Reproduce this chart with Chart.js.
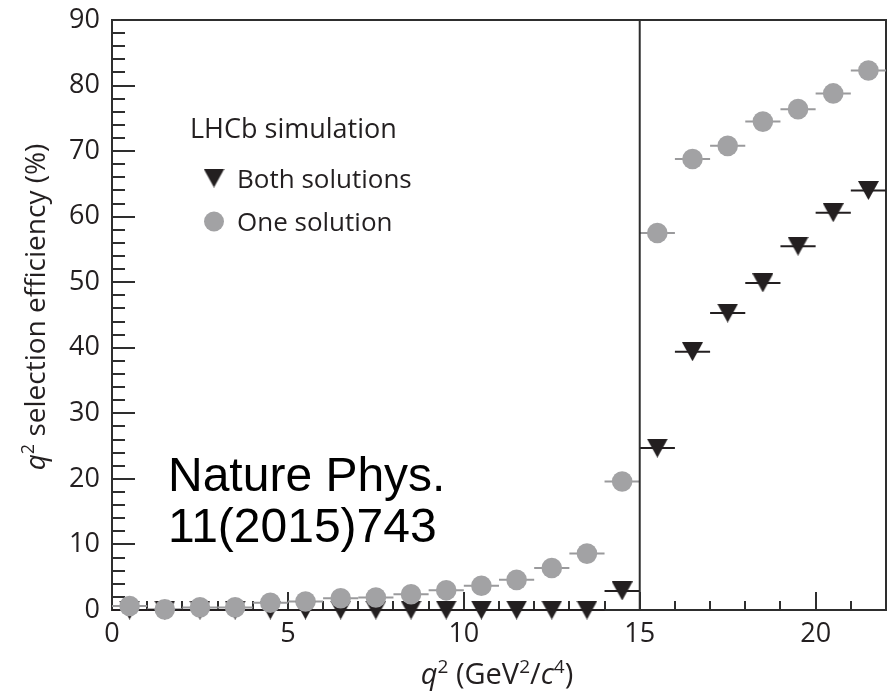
<!DOCTYPE html>
<html><head><meta charset="utf-8">
<script src="https://cdn.jsdelivr.net/npm/chart.js@4.4.1/dist/chart.umd.min.js"></script>
<style>html,body{margin:0;padding:0;background:#fff;}canvas{display:block;}</style>
</head><body>
<canvas id="c" width="893" height="691"></canvas>
<script>
// ---- data ----
const q2BinLow  = [0,1,2,3,4,5,6,7,8,9,10,11,12,13,14,15,16,17,18,19,20,21];
const q2BinHigh = [1,2,3,4,5,6,7,8,9,10,11,12,13,14,15,16,17,18,19,20,21,22];
const oneSolution   = [0.6,0.1,0.4,0.4,1.1,1.3,1.8,1.9,2.4,3.0,3.7,4.6,6.4,8.6,19.6,57.5,68.8,70.8,74.5,76.4,78.8,82.3];
const bothSolutions = [0,0,0,0,0,0,0,0,0,0,0,0,0,0,2.9,24.7,39.4,45.3,49.9,55.5,60.6,64.0];
const boundaryQ2  = [15,15];
const boundaryEff = [0,90];
const xTickValues = [0,5,10,15,20];
const yTickValues = [0,10,20,30,40,50,60,70,80,90];
const xMinorStep = 1, yMinorStep = 2;
const xRange = [0,22], yRange = [0,90];

const q2Centers = q2BinLow.map((l,i)=>(l+q2BinHigh[i])/2);

// down-pointing triangle marker
const tri = document.createElement('canvas');
tri.width = 21; tri.height = 19;
(function(){const t=tri.getContext('2d');t.fillStyle='#231f20';t.beginPath();t.moveTo(0,0);t.lineTo(21,0);t.lineTo(10.5,19);t.closePath();t.fill();})();

const INK = '#231f20', GREY = '#a2a2a4';
const FONT = '"Open Sans", "DejaVu Sans", sans-serif';

function richText(ctx, parts, x, y, align){
  let total = 0;
  parts.forEach(p=>{ctx.font=p.f; p.w=ctx.measureText(p.t).width; total+=p.w;});
  let cx = align==='center' ? x-total/2 : x;
  parts.forEach(p=>{ctx.font=p.f; ctx.fillText(p.t, cx, y+(p.dy||0)); cx+=p.w;});
}

const decor = {
  id:'decor',
  beforeDatasetsDraw(chart){
    const {ctx, chartArea:a, scales:{x,y}} = chart;
    ctx.save();
    // frame
    ctx.strokeStyle = '#2e2e2e'; ctx.lineWidth = 2;
    ctx.strokeRect(a.left, a.top, a.right-a.left, a.bottom-a.top);
    // inward ticks
    for (let v = xRange[0]; v <= xRange[1]; v += xMinorStep){
      const px = Math.round(x.getPixelForValue(v));
      const len = xTickValues.includes(v) ? 18 : 9;
      ctx.beginPath(); ctx.moveTo(px, a.bottom); ctx.lineTo(px, a.bottom-len); ctx.stroke();
    }
    for (let v = yRange[0]; v <= yRange[1]; v += yMinorStep){
      const py = Math.round(y.getPixelForValue(v));
      const len = yTickValues.includes(v) ? 23 : 13;
      ctx.beginPath(); ctx.moveTo(a.left, py); ctx.lineTo(a.left+len, py); ctx.stroke();
    }
    // horizontal error bars (bin widths)
    function bars(vals, color){
      ctx.strokeStyle = color; ctx.lineWidth = 2;
      vals.forEach((v,i)=>{
        const py = y.getPixelForValue(v);
        ctx.beginPath();
        ctx.moveTo(x.getPixelForValue(q2BinLow[i]), py);
        ctx.lineTo(x.getPixelForValue(q2BinHigh[i]), py);
        ctx.stroke();
      });
    }
    bars(oneSolution, '#9a9a9c');
    bars(bothSolutions, INK);
    ctx.restore();
  },
  afterDraw(chart){
    const {ctx} = chart;
    ctx.save();
    ctx.fillStyle = INK; ctx.textBaseline = 'alphabetic'; ctx.textAlign = 'left';
    // legend
    ctx.font = '27px ' + FONT;
    ctx.fillText('LHCb simulation', 190, 138);
    ctx.font = '26px ' + FONT;
    ctx.drawImage(tri, 214-10.5, 178-9.5);
    ctx.fillText('Both solutions', 237, 188);
    ctx.fillStyle = GREY; ctx.beginPath(); ctx.arc(214, 221.5, 10, 0, Math.PI*2); ctx.fill();
    ctx.fillStyle = INK;
    ctx.fillText('One solution', 237, 231);
    // annotation
    ctx.fillStyle = '#000';
    ctx.font = '48px "Liberation Sans", Arial, sans-serif';
    ctx.fillText('Nature Phys.', 168, 491);
    ctx.fillText('11(2015)743', 168, 542);
    // axis titles
    ctx.fillStyle = INK;
    const f = '29px ' + FONT, fi = 'italic 29px ' + FONT, fs = '19px ' + FONT;
    richText(ctx, [{t:'q',f:fi},{t:'2',f:fs,dy:-11},{t:' (GeV',f:f},{t:'2',f:fs,dy:-11},{t:'/',f:f},{t:'c',f:fi},{t:'4',f:fs,dy:-11},{t:')',f:f}], 497, 684, 'center');
    const g = '28px ' + FONT, gi = 'italic 28px ' + FONT, gs = '18px ' + FONT;
    ctx.translate(45, 307); ctx.rotate(-Math.PI/2);
    richText(ctx, [{t:'q',f:gi},{t:'2',f:gs,dy:-11},{t:' selection efficiency (%)',f:g}], 0, 0, 'center');
    ctx.restore();
  }
};

new Chart(document.getElementById('c'), {
  type: 'scatter',
  data: {
    datasets: [
      { label:'One solution', data: q2Centers.map((q,i)=>({x:q, y:oneSolution[i]})),
        pointStyle:'circle', pointRadius:10.3, pointBackgroundColor:GREY, pointBorderWidth:0,
        showLine:false, order:1, clip:false },
      { label:'Both solutions', data: q2Centers.map((q,i)=>({x:q, y:bothSolutions[i]})),
        pointStyle:tri, pointRadius:11, pointBorderWidth:0, showLine:false, order:2, clip:false },
      { label:'boundary', type:'line', data: boundaryQ2.map((q,i)=>({x:q, y:boundaryEff[i]})),
        borderColor:'#2e2e2e', borderWidth:2, pointRadius:0, order:3 }
    ]
  },
  options: {
    responsive:false, animation:false, devicePixelRatio:1,
    layout:{ autoPadding:false, padding:{ top:20, right:7, left:0, bottom:0 } },
    plugins:{ legend:{display:false}, tooltip:{enabled:false} },
    events: [],
    scales:{
      x:{ type:'linear', min:xRange[0], max:xRange[1],
          afterFit(s){ s.height = 81; },
          afterBuildTicks(s){ s.ticks = xTickValues.map(v=>({value:v})); },
          grid:{display:false, drawTicks:false}, border:{display:false},
          ticks:{ font:{family:FONT, size:27}, color:INK, padding:8, maxRotation:0, autoSkip:false } },
      y:{ type:'linear', min:yRange[0], max:yRange[1],
          afterFit(s){ s.width = 112; },
          afterBuildTicks(s){ s.ticks = yTickValues.map(v=>({value:v})); },
          grid:{display:false, drawTicks:false}, border:{display:false},
          ticks:{ font:{family:FONT, size:27, lineHeight:0.5}, color:INK, padding:12, autoSkip:false } }
    }
  },
  plugins:[decor]
});
</script>
</body></html>
